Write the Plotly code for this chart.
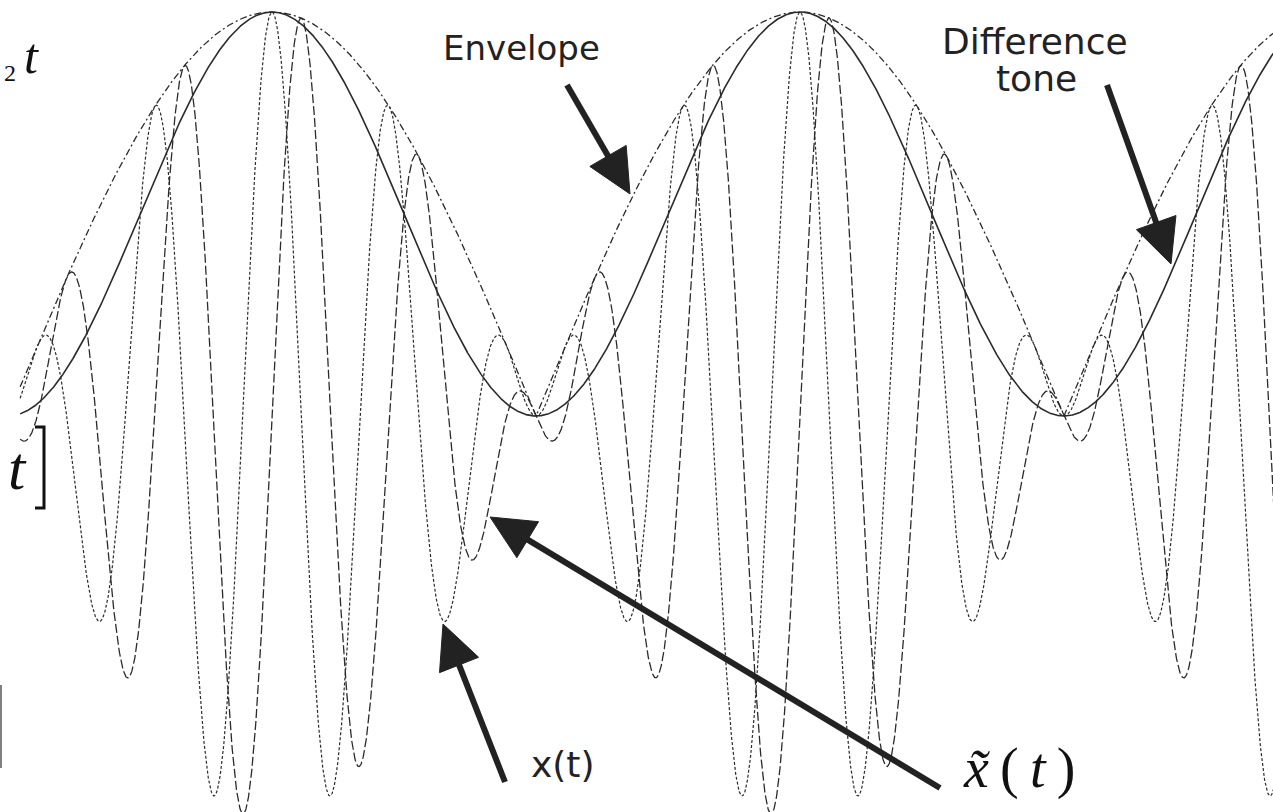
import numpy as np
import plotly.graph_objects as go

# Two tones (frequencies in units of the beat rate) and the sampled time span
f1 = 5.0
f2 = 4.0
t_start = -0.477
t_end = 1.95
n_samples = 4000

# Canvas geometry
W, H = 1273, 812
px_t0, px_per_t = 272.0, 528.0      # horizontal placement of t = 0 and scale
py_zero, py_per_unit = 416.0, 202.0  # vertical placement of amplitude 0 and scale

t = np.linspace(t_start, t_end, n_samples)
x = np.cos(2 * np.pi * f1 * t) + np.cos(2 * np.pi * f2 * t)
x_tilde = np.sin(2 * np.pi * f1 * t) + np.sin(2 * np.pi * f2 * t)   # Hilbert transform of x
envelope = np.sqrt(x ** 2 + x_tilde ** 2)
difference_tone = envelope ** 2 / 2.0

x_range = [(0 - px_t0) / px_per_t, (W - px_t0) / px_per_t]
y_range = [(py_zero - H) / py_per_unit, py_zero / py_per_unit]

INK = "#2b2b2b"

fig = go.Figure()
fig.add_trace(go.Scatter(x=t, y=x, mode="lines",
                         line=dict(color=INK, width=1.2, dash="3px,2px")))
fig.add_trace(go.Scatter(x=t, y=x_tilde, mode="lines",
                         line=dict(color=INK, width=1.3, dash="9px,3px")))
fig.add_trace(go.Scatter(x=t, y=envelope, mode="lines",
                         line=dict(color=INK, width=1.3, dash="7px,3px,2px,3px")))
fig.add_trace(go.Scatter(x=t, y=difference_tone, mode="lines",
                         line=dict(color=INK, width=1.6)))


def px(xp):
    return xp / W


def py(yp):
    return 1 - yp / H


def arrow(tail, tip, head_len=44, head_w=42, width=6, color="#222"):
    (x0, y0), (x1, y1) = tail, tip
    dx, dy = x1 - x0, y1 - y0
    L = (dx * dx + dy * dy) ** 0.5
    ux, uy = dx / L, dy / L
    bx, by = x1 - ux * head_len, y1 - uy * head_len
    nx, ny = -uy, ux
    c1 = (bx + nx * head_w / 2, by + ny * head_w / 2)
    c2 = (bx - nx * head_w / 2, by - ny * head_w / 2)
    ex, ey = x1 - ux * head_len * 0.7, y1 - uy * head_len * 0.7
    shaft = dict(type="line", xref="paper", yref="paper",
                 x0=px(x0), y0=py(y0), x1=px(ex), y1=py(ey),
                 line=dict(color=color, width=width))
    path = "M{},{} L{},{} L{},{} Z".format(px(x1), py(y1), px(c1[0]), py(c1[1]),
                                           px(c2[0]), py(c2[1]))
    head = dict(type="path", xref="paper", yref="paper", path=path,
                fillcolor=color, line=dict(color=color, width=1))
    return [shaft, head]


shapes = []
shapes += arrow((567, 85), (630, 194))      # Envelope
shapes += arrow((1107, 85), (1171, 264))    # Difference tone
shapes += arrow((505, 782), (443, 624))     # x(t)
shapes += arrow((940, 788), (490, 517))     # x~(t)

# closing bracket of the formula at the left edge
shapes.append(dict(type="path", xref="paper", yref="paper",
                   path="M{},{} L{},{} L{},{} L{},{}".format(px(35), py(427), px(44), py(427),
                                                             px(44), py(508), px(35), py(508)),
                   line=dict(color="#111", width=3)))
# vertical bar at the left edge
shapes.append(dict(type="line", xref="paper", yref="paper",
                   x0=px(1), y0=py(685), x1=px(1), y1=py(768),
                   line=dict(color="#555", width=1.5)))

SANS = "DejaVu Sans"
SERIF = "Liberation Serif"


def label(text, xp, yp, size, family=SANS, color="#222", xanchor="center"):
    return dict(text=text, xref="paper", yref="paper", x=px(xp), y=py(yp),
                xanchor=xanchor, yanchor="middle", showarrow=False,
                font=dict(family=family, size=size, color=color))


THIN = "\u2009"
annotations = [
    label("Envelope", 521, 48, 34),
    label("Difference", 1035, 42, 36),
    label("tone", 1036, 79, 36),
    label("x(t)", 563, 764, 36),
    label("<i>x̃</i>" + THIN + "(" + THIN + "<i>t</i>" + THIN + ")", 1019, 768, 56,
          family=SERIF, color="#111"),
    label("<i>t</i>", 31, 56, 50, family=SERIF, color="#111"),
    label("2", 10, 73, 24, family=SERIF, color="#111"),
    label("<i>t</i>", 17, 468, 62, family=SERIF, color="#111"),
]

fig.update_layout(
    width=W, height=H,
    margin=dict(l=0, r=0, t=0, b=0),
    paper_bgcolor="white", plot_bgcolor="white",
    showlegend=False,
    xaxis=dict(range=x_range, visible=False, fixedrange=True),
    yaxis=dict(range=y_range, visible=False, fixedrange=True),
    shapes=shapes,
    annotations=annotations,
)

fig.write_html("out.html")
